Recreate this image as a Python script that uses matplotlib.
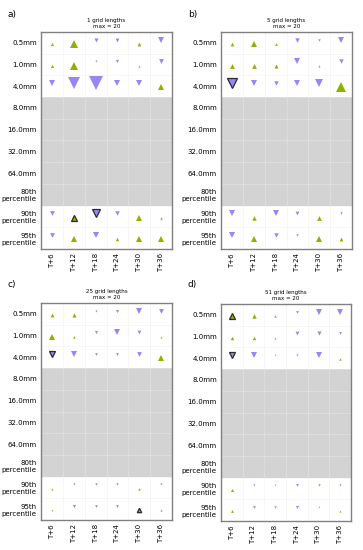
import numpy as np
import matplotlib
matplotlib.use('Agg')
import matplotlib.pyplot as plt

# 行/列标签
row_labels = ['0.5mm', '1.0mm', '4.0mm', '8.0mm', '16.0mm', '32.0mm', '64.0mm',
              '80th\npercentile', '90th\npercentile', '95th\npercentile']
col_labels = ['T+6', 'T+12', 'T+18', 'T+24', 'T+30', 'T+36']
data_rows = [0, 1, 2, 8, 9]       # 有数据的行
grey_rows = [3, 4, 5, 6, 7]       # 无数据（灰色）

panel_names = ['a)', 'b)', 'c)', 'd)']
grid_lengths = [1, 5, 25, 51]
vmax = 20

# 数值：正 -> 绿色上三角，负 -> 紫色下三角
vals_a = [[3, 9.5, -4.5, -4, 4, -6],
          [3, 10, -1.5, -3, 1.5, -5.5],
          [-6, -15, -20, -7, -6.5, 8],
          [-5.5, 6, -9, -5, 6, 2],
          [-5.5, 7.5, -6.5, 3.5, 6.5, 6.5]]
vals_b = [[4, 8.5, 2.5, -5, -2, -6.5],
          [5.5, 5.5, 4.5, -6.5, 1.5, -5],
          [-14, -6, -5, -8.5, -11.5, 12],
          [-6.5, 5, -6, -4, 5.5, -2],
          [-7.5, 6.5, -5, -2, 8, 4]]
vals_c = [[4, 4.5, -1.5, -3, -6.5, -5.5],
          [6, 2, -3, -6, -4, 1.2],
          [-7.5, -7.5, -2.5, -2.5, -5.5, 8],
          [1.5, -1.5, -2, -2, 2, -1.5],
          [0.8, -3, -2.5, -2.5, 5, 1.5]]
vals_d = [[6, 5, 2, -2.5, -6.5, -6.5],
          [3.5, 3.5, 1.2, -4, -4.5, -2.5],
          [-7.5, -7.5, -0.8, -1.5, -6.5, 2],
          [3, -1.5, -0.8, -2.5, -2, -1.5],
          [2.5, -2.5, -2, -3, -0.8, 1.5]]

# 显著性（深色边框）
sig_a = [(3, 1), (3, 2)]
sig_b = [(2, 0)]
sig_c = [(2, 0), (4, 4)]
sig_d = [(0, 0), (2, 0)]

all_vals = [vals_a, vals_b, vals_c, vals_d]
all_sig = [sig_a, sig_b, sig_c, sig_d]

green = '#8db300'
purple = '#9b84f4'

W, H = 363, 550
fig = plt.figure(figsize=(W / 100, H / 100), dpi=100)

# 各子图位置 (left, top, right, bottom) 像素
boxes = [(41, 32, 172, 249), (221, 32, 352, 249),
         (41, 303, 172, 520), (221, 304, 351, 521)]
label_pos = [(8, 14), (188, 14), (8, 284), (188, 285)]

for k in range(4):
    l, t, r, b = boxes[k]
    ax = fig.add_axes([l / W, 1 - b / H, (r - l) / W, (b - t) / H])
    ax.set_xlim(0, len(col_labels))
    ax.set_ylim(len(row_labels), 0)

    ax.axhspan(grey_rows[0], grey_rows[-1] + 1, color='#d3d3d3', zorder=0, lw=0)
    for x in range(1, len(col_labels)):
        ax.axvline(x, color='#ececec', lw=0.5, zorder=0.5, alpha=0.6)
    for y in range(1, len(row_labels)):
        ax.axhline(y, color='#ececec', lw=0.5, zorder=0.5, alpha=0.6)

    v = np.array(all_vals[k])
    for i, row in enumerate(data_rows):
        for j in range(len(col_labels)):
            val = v[i, j]
            ms = 0.8 + 9.6 * abs(val) / vmax
            if val >= 0:
                mk, c, dy = '^', green, 0.05
            else:
                mk, c, dy = 'v', purple, -0.15
            if (i, j) in all_sig[k]:
                ec, ew = '#2a2a2a', 0.9
            else:
                ec, ew = 'none', 0
            ax.plot(j + 0.5, row + 0.5 + dy, marker=mk, ms=ms, color=c,
                    markeredgecolor=ec, markeredgewidth=ew, ls='none', zorder=3)

    ax.set_xticks(np.arange(len(col_labels)) + 0.5)
    ax.set_xticklabels(col_labels, rotation=90, fontsize=5)
    ax.set_yticks(np.arange(len(row_labels)) + 0.5)
    ax.set_yticklabels(row_labels, fontsize=5)
    ax.tick_params(length=0, pad=3)
    for s in ax.spines.values():
        s.set_color('#808080')
        s.set_linewidth(1)
    ax.set_title('%d grid lengths\nmax = %d' % (grid_lengths[k], vmax),
                 fontsize=4, pad=3, linespacing=1.1)

    fig.text(label_pos[k][0] / W, 1 - label_pos[k][1] / H, panel_names[k],
             fontsize=6.5, va='center')

fig.savefig('out.png', dpi=100)
